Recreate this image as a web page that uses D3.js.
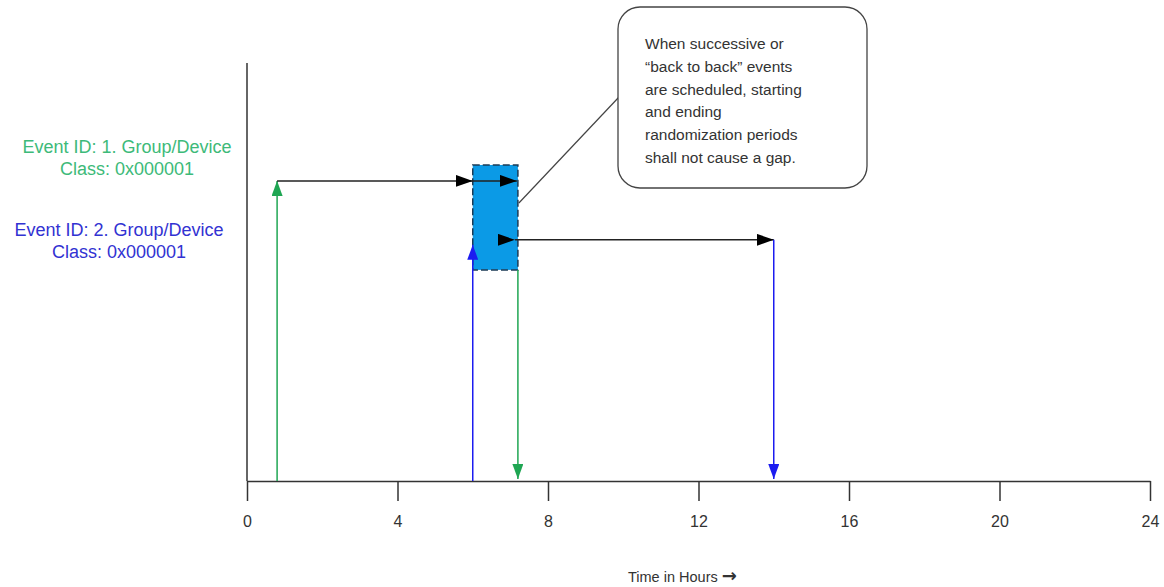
<!DOCTYPE html>
<html>
<head>
<meta charset="utf-8">
<script src="https://cdn.jsdelivr.net/npm/d3@7"></script>
<style>
  html, body { margin: 0; padding: 0; background: #fff; }
  svg { display: block; font-family: "Liberation Sans", Arial, sans-serif; }
</style>
</head>
<body>
<svg id="chart" width="1164" height="587"></svg>
<script>
// ---------- data ----------
const hourTicks = [0, 4, 8, 12, 16, 20, 24];
const axisTitle = "Time in Hours";
const axisTitleArrow = "\u2192";

const eventNames = ["Event ID: 1. Group/Device", "Event ID: 2. Group/Device"];
const eventClasses = ["Class: 0x000001", "Class: 0x000001"];
const eventStartHour = [0.8, 6.0];
const eventEndHour = [7.2, 14.0];
const eventLevel = [7.18, 5.77];       // level of the horizontal duration arrow
const eventStartArrowTop = [7.18, 5.65]; // top of the start (up) arrow
const eventEndArrowTop = [5.05, 5.77];   // top of the end (down) arrow

const randomStartHour = 6.0;
const randomEndHour = 7.2;
const randomTop = 7.56;
const randomBottom = 5.05;

const calloutLines = [
  "When successive or",
  "\u201Cback to back\u201D events",
  "are scheduled, starting",
  "and ending",
  "randomization periods",
  "shall not cause a gap."
];

// ---------- layout ----------
const svg = d3.select("#chart");
const x = d3.scaleLinear().domain([0, 24]).range([247, 1150]);
const y = d3.scaleLinear().domain([0, 10]).range([481, 63]);

const green = "#1fa653", greenText = "#3dba79";
const blue = "#1c1cf0", blueText = "#3232d2";
const axisColor = "#333";

// markers
const defs = svg.append("defs");
function marker(id, color, w, h) {
  defs.append("marker")
    .attr("id", id)
    .attr("viewBox", "0 0 10 10")
    .attr("refX", 10).attr("refY", 5)
    .attr("markerUnits", "userSpaceOnUse")
    .attr("markerWidth", w).attr("markerHeight", h)
    .attr("preserveAspectRatio", "none")
    .attr("orient", "auto")
    .append("path").attr("d", "M0,0 L10,5 L0,10 Z").attr("fill", color);
}
marker("ah-black", "#000", 17, 12);
marker("ah-green", green, 15, 11);
marker("ah-blue", blue, 15, 11);

// y axis line (no ticks)
svg.append("line")
  .attr("x1", x(0)).attr("x2", x(0))
  .attr("y1", y(10)).attr("y2", y(0))
  .attr("stroke", axisColor).attr("stroke-width", 1.5);

// x axis
const gx = svg.append("g").attr("transform", `translate(0,${y(0)})`)
  .call(d3.axisBottom(x).tickValues(hourTicks).tickSize(20).tickPadding(15).tickSizeOuter(0));
gx.select(".domain").attr("stroke", axisColor).attr("stroke-width", 1.5);
gx.selectAll(".tick line").attr("stroke", axisColor).attr("stroke-width", 1.5);
gx.selectAll(".tick text").attr("fill", "#333").style("font-size", "16px")
  .style("font-family", "'Liberation Sans', Arial, sans-serif");

const title = svg.append("text")
  .attr("x", 628).attr("y", 582)
  .attr("fill", "#333").style("font-size", "14.5px");
title.append("tspan").text(axisTitle + " ");
title.append("tspan").style("font-size", "18px").style("font-weight", "bold")
  .style("font-family", "'DejaVu Sans', sans-serif").text(axisTitleArrow);

// event labels
const labelColors = [greenText, blueText];
const labelX = [127, 119];
const labelY = [153, 236];
eventNames.forEach((name, i) => {
  const t = svg.append("text").attr("text-anchor", "middle")
    .attr("fill", labelColors[i]).style("font-size", "18px");
  t.append("tspan").attr("x", labelX[i]).attr("y", labelY[i]).text(name);
  t.append("tspan").attr("x", labelX[i]).attr("y", labelY[i] + 22).text(eventClasses[i]);
});

// randomization box
svg.append("rect")
  .attr("x", x(randomStartHour)).attr("y", y(randomTop))
  .attr("width", x(randomEndHour) - x(randomStartHour))
  .attr("height", y(randomBottom) - y(randomTop))
  .attr("fill", "#0b9ae6")
  .attr("stroke", "#1b3b55").attr("stroke-width", 1.5)
  .attr("stroke-dasharray", "7,3");

// event 1
svg.append("line")
  .attr("x1", x(eventStartHour[0])).attr("x2", x(eventStartHour[0]))
  .attr("y1", y(0)).attr("y2", y(eventStartArrowTop[0]))
  .attr("stroke", green).attr("stroke-width", 1.5)
  .attr("marker-end", "url(#ah-green)");
svg.append("line")
  .attr("x1", x(eventStartHour[0])).attr("x2", x(randomStartHour))
  .attr("y1", y(eventLevel[0])).attr("y2", y(eventLevel[0]))
  .attr("stroke", "#222").attr("stroke-width", 1.5)
  .attr("marker-end", "url(#ah-black)");
svg.append("line")
  .attr("x1", x(randomStartHour)).attr("x2", x(eventEndHour[0]) - 1)
  .attr("y1", y(eventLevel[0])).attr("y2", y(eventLevel[0]))
  .attr("stroke", "#222").attr("stroke-width", 1.5)
  .attr("marker-end", "url(#ah-black)");
svg.append("line")
  .attr("x1", x(eventEndHour[0])).attr("x2", x(eventEndHour[0]))
  .attr("y1", y(eventEndArrowTop[0])).attr("y2", y(0) - 2)
  .attr("stroke", green).attr("stroke-width", 1.5)
  .attr("marker-end", "url(#ah-green)");

// event 2
svg.append("line")
  .attr("x1", x(eventStartHour[1])).attr("x2", x(eventStartHour[1]))
  .attr("y1", y(0)).attr("y2", y(eventStartArrowTop[1]))
  .attr("stroke", blue).attr("stroke-width", 1.5)
  .attr("marker-end", "url(#ah-blue)");
svg.append("line")
  .attr("x1", x(randomEndHour) - 3).attr("x2", x(eventEndHour[1]))
  .attr("y1", y(eventLevel[1])).attr("y2", y(eventLevel[1]))
  .attr("stroke", "#222").attr("stroke-width", 1.5)
  .attr("marker-start", "url(#ah-black)")
  .attr("marker-end", "url(#ah-black)");
svg.append("line")
  .attr("x1", x(eventEndHour[1])).attr("x2", x(eventEndHour[1]))
  .attr("y1", y(eventEndArrowTop[1])).attr("y2", y(0) - 2)
  .attr("stroke", blue).attr("stroke-width", 1.5)
  .attr("marker-end", "url(#ah-blue)");

// callout
const cx0 = 618, cy0 = 7, cw = 249, ch = 181;
svg.append("line")
  .attr("x1", x(randomEndHour) + 1).attr("y1", 203)
  .attr("x2", cx0 + 1).attr("y2", 97)
  .attr("stroke", "#444").attr("stroke-width", 1.2);
svg.append("rect")
  .attr("x", cx0).attr("y", cy0).attr("width", cw).attr("height", ch)
  .attr("rx", 22).attr("ry", 22)
  .attr("fill", "#fff").attr("stroke", "#444").attr("stroke-width", 1.3);
const ct = svg.append("text").attr("fill", "#333").style("font-size", "15.5px");
calloutLines.forEach((l, i) => {
  ct.append("tspan").attr("x", 645).attr("y", 49 + i * 22.8).text(l);
});
</script>
</body>
</html>
